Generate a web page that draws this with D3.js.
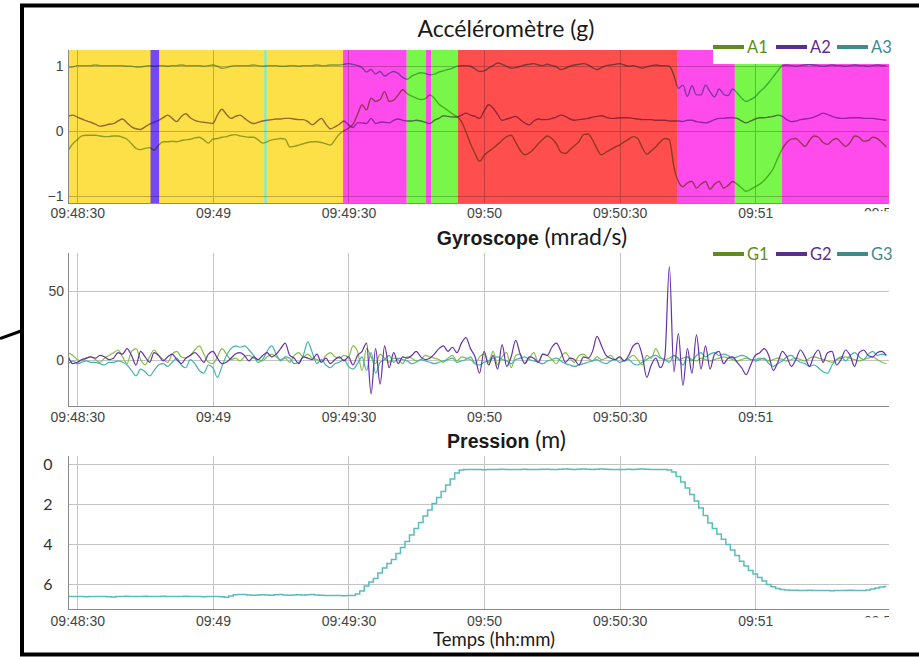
<!DOCTYPE html>
<html lang="fr">
<head>
<meta charset="UTF-8">
<title>Accéléromètre, gyroscope et pression</title>
<script src="https://d3js.org/d3.v7.min.js"></script>
<style>
  body { margin: 0; background: #fff; }
  svg { display: block; }
  .tick text { font-family: "Liberation Sans", Arial, sans-serif; font-size: 14px; fill: #444; }
  .prs .tick text { font-family: Lato, sans-serif; font-size: 16px; fill: #333; }
  .title { font-family: Lato, sans-serif; font-size: 23px; fill: #1a1a1a; }
  .title .b { font-family: "Liberation Sans", Arial, sans-serif; font-weight: bold; font-size: 19.5px; }
  .legend text { font-family: Lato, sans-serif; font-size: 16.5px; }
</style>
</head>
<body>
<div id="chart"></div>
<script>
// first sample is 2 s before 09:48:30, one sample per second
const startSec = -2;

// accelerometer (g)
const a1 = [-0.30, -0.20, -0.14, -0.08, -0.07, -0.07, -0.07, -0.08, -0.09, -0.09, -0.08, -0.08,
  -0.10, -0.13, -0.20, -0.27, -0.29, -0.27, -0.26, -0.30, -0.22, -0.17,
  -0.17, -0.16, -0.17, -0.15, -0.14, -0.13, -0.11, -0.10, -0.14, -0.19,
  -0.13, -0.12, -0.10, -0.09, -0.07, -0.06, -0.08, -0.09, -0.10, -0.10,
  -0.14, -0.19, -0.17, -0.14, -0.13, -0.12, -0.13, -0.25, -0.24, -0.22,
  -0.20, -0.18, -0.17, -0.17, -0.18, -0.20, -0.22, -0.14, -0.05, 0.00,
  0.04, 0.10, 0.25, 0.40, 0.32, 0.50, 0.45, 0.48, 0.60, 0.45,
  0.47, 0.55, 0.63, 0.57, 0.53, 0.50, 0.48, 0.49, 0.55, 0.50,
  0.41, 0.36, 0.31, 0.26, 0.22, 0.14, -0.02, -0.20, -0.35, -0.47,
  -0.38, -0.32, -0.27, -0.21, -0.15, -0.09, -0.07, -0.18, -0.30, -0.37,
  -0.34, -0.28, -0.20, -0.13, -0.08, -0.12, -0.20, -0.33, -0.35, -0.29,
  -0.23, -0.17, -0.06, -0.05, -0.14, -0.28, -0.37, -0.33, -0.29, -0.25,
  -0.22, -0.17, -0.13, -0.09, -0.12, -0.26, -0.36, -0.31, -0.25, -0.17,
  -0.12, -0.14, -0.55, -0.78, -0.86, -0.80, -0.78, -0.88, -0.82, -0.78,
  -0.90, -0.82, -0.78, -0.88, -0.84, -0.78, -0.82, -0.88, -0.93, -0.90,
  -0.86, -0.82, -0.76, -0.68, -0.58, -0.42, -0.28, -0.18, -0.13, -0.12,
  -0.18, -0.24, -0.15, -0.08, -0.10, -0.18, -0.21, -0.15, -0.12, -0.18,
  -0.24, -0.18, -0.08, -0.10, -0.16, -0.15, -0.10, -0.12, -0.18, -0.25];
const a2 = [0.22, 0.24, 0.21, 0.18, 0.15, 0.13, 0.10, 0.07, 0.08, 0.10, 0.11, 0.15,
  0.18, 0.12, 0.06, 0.03, 0.02, 0.06, 0.10, 0.13, 0.16, 0.20,
  0.24, 0.19, 0.14, 0.22, 0.26, 0.20, 0.16, 0.14, 0.13, 0.12,
  0.11, 0.24, 0.33, 0.25, 0.19, 0.22, 0.24, 0.19, 0.14, 0.11,
  0.13, 0.15, 0.16, 0.17, 0.18, 0.18, 0.19, 0.19, 0.18, 0.17,
  0.17, 0.14, 0.09, 0.14, 0.19, 0.10, 0.03, 0.06, 0.10, 0.15,
  0.09, 0.05, 0.12, 0.12, 0.11, 0.19, 0.11, 0.13, 0.13, 0.12,
  0.16, 0.18, 0.16, 0.15, 0.15, 0.16, 0.15, 0.13, 0.11, 0.16,
  0.19, 0.23, 0.22, 0.21, 0.21, 0.24, 0.27, 0.24, 0.22, 0.19,
  0.30, 0.40, 0.35, 0.25, 0.16, 0.18, 0.20, 0.22, 0.17, 0.12,
  0.09, 0.15, 0.18, 0.17, 0.17, 0.19, 0.21, 0.24, 0.22, 0.18,
  0.16, 0.17, 0.18, 0.19, 0.21, 0.22, 0.23, 0.21, 0.19, 0.19,
  0.20, 0.20, 0.20, 0.19, 0.18, 0.17, 0.17, 0.17, 0.16, 0.16,
  0.16, 0.15, 0.15, 0.15, 0.14, 0.16, 0.16, 0.14, 0.13, 0.12,
  0.14, 0.17, 0.19, 0.19, 0.20, 0.20, 0.19, 0.15, 0.12, 0.15,
  0.18, 0.20, 0.20, 0.21, 0.22, 0.24, 0.22, 0.17, 0.14, 0.15,
  0.17, 0.18, 0.19, 0.21, 0.24, 0.27, 0.25, 0.22, 0.20, 0.19,
  0.19, 0.20, 0.20, 0.20, 0.19, 0.19, 0.19, 0.18, 0.17, 0.16];
const a3 = [0.97, 0.98, 1.00, 1.00, 1.00, 1.00, 1.01, 1.00, 1.00, 1.00, 1.00, 1.00,
  1.00, 0.99, 0.99, 0.98, 0.98, 0.99, 1.00, 0.99, 1.00, 1.00,
  0.99, 1.00, 1.00, 1.01, 1.00, 1.00, 1.00, 1.00, 0.99, 1.00,
  1.01, 0.99, 0.96, 0.97, 0.99, 1.00, 1.00, 1.00, 1.00, 1.01,
  1.00, 0.99, 1.00, 1.00, 1.00, 0.99, 0.99, 1.00, 1.00, 0.99,
  1.00, 1.00, 1.00, 1.01, 1.00, 1.00, 1.01, 1.01, 1.01, 1.02,
  1.03, 1.02, 1.00, 0.97, 0.90, 0.94, 0.87, 0.91, 0.84, 0.88,
  0.91, 0.88, 0.82, 0.79, 0.84, 0.87, 0.89, 0.88, 0.86, 0.87,
  0.90, 0.92, 0.94, 0.96, 0.99, 1.00, 1.00, 0.99, 0.95, 0.91,
  0.92, 0.96, 1.00, 1.04, 1.02, 0.99, 0.96, 0.97, 0.99, 1.01,
  1.02, 1.03, 1.01, 1.00, 1.02, 1.00, 0.98, 0.94, 0.96, 0.99,
  1.01, 1.02, 1.03, 1.01, 0.97, 0.94, 0.97, 1.00, 1.01, 1.02,
  1.03, 1.01, 0.99, 1.00, 0.98, 0.96, 0.98, 1.00, 1.01, 1.00,
  1.00, 0.99, 0.85, 0.65, 0.70, 0.53, 0.69, 0.55, 0.55, 0.70,
  0.60, 0.52, 0.64, 0.56, 0.54, 0.64, 0.58, 0.50, 0.45, 0.48,
  0.52, 0.60, 0.66, 0.74, 0.83, 0.92, 1.00, 1.01, 1.00, 0.99,
  1.00, 1.01, 1.02, 1.01, 1.00, 0.99, 1.00, 1.01, 1.00, 1.00,
  0.99, 1.00, 1.01, 1.00, 1.00, 0.99, 1.00, 1.01, 1.00, 1.00];

// gyroscope (mrad/s)
const g1 = [5, 3, 0, -1, 1, 2, 0, -2, 1, 3, 5, 7,
  2, -3, 6, 8, 0, -4, 2, 7, 3, 0,
  -2, 4, 6, 2, 1, 3, 7, 10, 4, -2,
  -3, 2, 8, 4, 0, 1, -1, 2, 3, 1,
  0, -1, 2, 4, 2, 0, 1, -2, 3, 5,
  2, 4, 1, 0, -1, 3, 5, 2, 1, 3,
  2, 10, 6, -8, 8, 2, -3, 4, 1, -2,
  1, 0, -3, 2, 1, -1, 0, 3, 2, 1,
  0, -2, 1, 3, -1, 2, 1, 0, -3, 2,
  4, -2, 6, -4, 2, 5, -6, 3, 4, -3,
  1, 5, -2, 4, 3, 0, -3, 2, 5, 1,
  -2, 3, 4, 1, -1, 2, 0, 1, 3, 0,
  2, -1, 1, 3, 0, -4, 3, 1, 8, 2,
  0, 1, 3, 0, 1, 2, 0, -1, 1, 0,
  -1, 0, 1, 2, 1, 0, -1, 0, 1, 0,
  0, 1, 0, -1, 0, 1, 0, -1, 0, 1,
  0, -1, 1, 2, 1, 0, -1, -2, 0, 1,
  2, 1, 0, -1, 0, 1, 2, 0, -2, -3];
const g2 = [2, -3, -2, 0, 1, 2, 1, 3, 2, 0, 1, 5,
  4, 8, 3, -4, 6, 2, -2, 5, 3, -1,
  2, 4, 0, -3, 1, 3, 5, 2, -2, 4,
  6, 1, -3, -2, 1, 4, 5, 3, -1, 2,
  0, 3, 5, 2, 4, 8, 12, 3, 1, -3,
  2, 1, 0, 4, -2, 1, -3, 0, 2, -1,
  2, -4, 3, 6, 12, -25, 8, -18, 10, -6,
  5, -3, 2, 1, 3, 6, 2, 0, 1, 4,
  8, 10, 6, 9, 5, 12, 16, 8, 2, -10,
  6, -4, 3, -7, 11, -5, 2, 14, 4, -3,
  2, 1, -2, 4, 3, 9, 12, 6, -2, 1,
  0, -4, 2, 1, 6, 17, 10, 3, 1, 0,
  2, -1, 3, 10, 12, 3, -13, -4, 1, -6,
  2, 68, -9, 19, -19, 8, -10, 18, -7, 10,
  -7, 4, 6, -3, 1, 2, -2, -6, -11, -4,
  3, 5, 8, 3, -8, -2, 6, 2, -5, 0,
  7, 2, -5, 3, 7, -2, 5, 6, -4, 0,
  7, 3, -5, 5, 7, 3, 2, 5, 6, 3];
const g3 = [-3, -1, -3, -2, -1, -2, -2, -3, -4, -2, -2, -1,
  -2, -4, -8, -12, -7, -9, -12, -8, -4, -3,
  -5, -2, 1, -4, -6, 0, -3, -8, -10, -4,
  -6, -13, -5, 3, 8, 10, 9, 10, 7, 3,
  -2, 0, 6, 10, 4, -1, 2, 1, -3, -2,
  3, 13, 5, -3, 0, -4, -6, -3, -2, 0,
  -5, -7, -3, 2, -8, 5, -10, -2, 0, 3,
  -2, 1, 0, -1, -3, -2, 0, -1, -2, -3,
  -2, -1, 0, 1, -2, -1, 0, 2, -3, -4,
  -2, -1, 1, 2, 0, -1, -3, 0, 1, 2,
  0, -1, -2, -3, -1, 0, 1, -1, -3, -4,
  -5, -4, -3, -2, -1, 0, -2, -3, -1, 0,
  -2, -1, 0, -3, -4, -2, 0, 2, 3, 1,
  0, -2, 3, 1, -4, 2, -1, 3, 5, 2,
  4, 5, 3, 4, 3, 1, 2, 3, 2, 0,
  -1, 0, 1, -3, -5, -3, -1, 2, 3, 0,
  -2, -3, -5, -4, -6, -9, -10, -4, 0, 2,
  -1, 3, 5, 2, 0, 4, 6, 3, 4, 3];

// pressure converted to depth (m)
const depth = [6.62, 6.63, 6.62, 6.63, 6.64, 6.63, 6.62, 6.62, 6.63, 6.64, 6.65, 6.63,
  6.62, 6.61, 6.62, 6.63, 6.62, 6.61, 6.62, 6.63, 6.62, 6.61,
  6.62, 6.62, 6.63, 6.62, 6.61, 6.62, 6.62, 6.63, 6.64, 6.63,
  6.62, 6.63, 6.64, 6.66, 6.60, 6.54, 6.52, 6.53, 6.55, 6.56,
  6.55, 6.54, 6.55, 6.56, 6.54, 6.53, 6.55, 6.56, 6.55, 6.54,
  6.55, 6.54, 6.53, 6.55, 6.56, 6.57, 6.58, 6.58, 6.58, 6.59,
  6.58, 6.58, 6.50, 6.35, 6.10, 5.90, 5.72, 5.45, 5.20, 4.98,
  4.78, 4.47, 4.17, 3.88, 3.55, 3.23, 2.92, 2.60, 2.30, 1.98,
  1.68, 1.37, 1.05, 0.75, 0.45, 0.30, 0.28, 0.28, 0.27, 0.28,
  0.29, 0.28, 0.27, 0.27, 0.26, 0.27, 0.28, 0.28, 0.27, 0.26,
  0.27, 0.28, 0.27, 0.26, 0.26, 0.27, 0.27, 0.26, 0.25, 0.26,
  0.27, 0.26, 0.25, 0.26, 0.27, 0.26, 0.25, 0.26, 0.27, 0.27,
  0.28, 0.27, 0.26, 0.27, 0.26, 0.25, 0.26, 0.27, 0.27, 0.27,
  0.27, 0.30, 0.40, 0.62, 0.90, 1.20, 1.52, 1.85, 2.20, 2.58,
  2.95, 3.22, 3.50, 3.76, 4.02, 4.30, 4.58, 4.86, 5.10, 5.32,
  5.50, 5.68, 5.85, 6.02, 6.14, 6.23, 6.28, 6.30, 6.31, 6.31,
  6.32, 6.32, 6.31, 6.32, 6.33, 6.32, 6.33, 6.34, 6.33, 6.33,
  6.32, 6.31, 6.32, 6.33, 6.33, 6.30, 6.25, 6.20, 6.15, 6.12];

// activity segments behind the accelerometer, seconds from 09:48:30
const segStart = [-2.06, 16.2, 41.4, 58.8, 72.9, 77.1, 78.3, 84.2, 132.7, 145.5, 155.9];
const segEnd = [58.8, 18.1, 41.9, 72.9, 77.1, 78.3, 84.2, 132.7, 145.5, 155.9, 179.6];
const segKind = ["jaune", "bleu", "cyan", "magenta", "vert", "magenta", "vert", "rouge", "magenta", "vert", "magenta"];

const accNames = ["A1", "A2", "A3"];
const gyrNames = ["G1", "G2", "G3"];
const accTicks = [-1, 0, 1];
const gyrTicks = [0, 50];
const prsTicks = [0, 2, 4, 6];

const segColor = { jaune: "#fde047", bleu: "#7448f4", cyan: "#6ef0de", magenta: "#ff4bec", vert: "#79f64a", rouge: "#ff4e4e" };
const accColor = ["#5a8a14", "#5b2d8e", "#3d8b8b"];
const gyrColor = ["#86be48", "#6532aa", "#46b0b0"];
const legColor = ["#5e8c1e", "#5b2d8e", "#3d8b8b"];

const W = 919, H = 657;
const svg = d3.select("#chart").append("svg").attr("width", W).attr("height", H);

const base = new Date(2021, 0, 1, 9, 48, 30);
const at = s => new Date(base.getTime() + s * 1000);
const series = vals => vals.map((v, i) => ({ t: at(startSec + i), v: v }));

const x = d3.scaleTime().domain([at(-2.06), at(179.6)]).range([68, 889]);
const tickTimes = x.ticks(d3.timeSecond.every(30));
const cutTime = at(180);
const fmtTick = d => d3.timeFormat(d.getSeconds() ? "%H:%M:%S" : "%H:%M")(d);

const yAcc = d3.scaleLinear().domain([-1.11, 1.24]).range([203, 50]);
const yGyr = d3.scaleLinear().domain([-34, 78]).range([406, 253]);
const yPrs = d3.scaleLinear().domain([-0.4, 7.25]).range([456, 609]);

const px = v => Math.round(v) + 0.5;
const topOf = y => d3.min(y.range());
const bottomOf = y => d3.max(y.range());

// outer frame and the pointer line on the left
svg.append("rect").attr("x", 22).attr("y", 5.5).attr("width", 920).attr("height", 649)
  .attr("fill", "none").attr("stroke", "#000").attr("stroke-width", 4);
svg.append("line").attr("x1", 0).attr("y1", 338.5).attr("x2", 21).attr("y2", 331)
  .attr("stroke", "#000").attr("stroke-width", 3);

function clipFor(id, y) {
  svg.append("clipPath").attr("id", id).append("rect")
    .attr("x", x.range()[0]).attr("y", topOf(y))
    .attr("width", x.range()[1] - x.range()[0]).attr("height", bottomOf(y) - topOf(y));
}

function grid(g, y, yTicks) {
  g.selectAll(".vg").data(tickTimes).join("line").attr("class", "vg")
    .attr("x1", d => px(x(d))).attr("x2", d => px(x(d)))
    .attr("y1", topOf(y)).attr("y2", bottomOf(y)).attr("stroke", "#c4c4c4");
  g.selectAll(".hg").data(yTicks).join("line").attr("class", "hg")
    .attr("x1", x.range()[0]).attr("x2", x.range()[1])
    .attr("y1", d => px(y(d))).attr("y2", d => px(y(d))).attr("stroke", "#c4c4c4");
}

function frame(g, y) {
  g.append("line").attr("x1", 68.5).attr("x2", 68.5).attr("y1", topOf(y)).attr("y2", bottomOf(y)).attr("stroke", "#8a8a8a");
  g.append("line").attr("x1", 68).attr("x2", 889).attr("y1", bottomOf(y) + 0.5).attr("y2", bottomOf(y) + 0.5).attr("stroke", "#8a8a8a");
}

function xAxis(y, pad, cutY, id) {
  if (cutY) {
    const cp = svg.append("clipPath").attr("id", id);
    cp.append("rect").attr("x", 0).attr("y", 0).attr("width", 862).attr("height", H);
    cp.append("rect").attr("x", 862).attr("y", 0).attr("width", 27).attr("height", cutY);
  }
  const holder = svg.append("g");
  if (cutY) holder.attr("clip-path", `url(#${id})`);
  const ax = holder.append("g").attr("transform", `translate(0,${bottomOf(y)})`)
    .call(d3.axisBottom(x).tickValues(cutY ? tickTimes.concat([cutTime]) : tickTimes)
      .tickFormat(fmtTick).tickSize(0).tickPadding(pad));
  ax.select(".domain").remove();
}

function yAxis(cls, y, ticks, pad) {
  const ax = svg.append("g").attr("class", cls).attr("transform", "translate(68,0)")
    .call(d3.axisLeft(y).tickValues(ticks).tickFormat(d3.format("d")).tickSize(0).tickPadding(pad));
  ax.select(".domain").remove();
}

function legend(y0, names) {
  const lg = svg.append("g").attr("class", "legend");
  const x0 = [713, 776, 837];
  names.forEach((n, i) => {
    lg.append("line").attr("x1", x0[i]).attr("x2", x0[i] + 31).attr("y1", y0).attr("y2", y0)
      .attr("stroke", legColor[i]).attr("stroke-width", 4);
    lg.append("text").attr("x", x0[i] + 34).attr("y", y0 + 6).attr("fill", legColor[i]).text(n);
  });
}

// ---------- accelerometer ----------
clipFor("clipAcc", yAcc);
const accG = svg.append("g").attr("clip-path", "url(#clipAcc)");
accG.selectAll(".seg").data(segKind).join("rect").attr("class", "seg")
  .attr("x", (d, i) => x(at(segStart[i])))
  .attr("width", (d, i) => x(at(segEnd[i])) - x(at(segStart[i])))
  .attr("y", topOf(yAcc)).attr("height", bottomOf(yAcc) - topOf(yAcc))
  .attr("fill", d => segColor[d]);
const accMul = accG.append("g").style("mix-blend-mode", "multiply");
grid(accMul, yAcc, accTicks);
const accLine = d3.line().x(d => x(d.t)).y(d => yAcc(d.v)).curve(d3.curveMonotoneX);
accMul.selectAll(".acc").data([a1, a2, a3]).join("path").attr("class", "acc")
  .attr("d", d => accLine(series(d))).attr("fill", "none")
  .attr("stroke", (d, i) => accColor[i]).attr("stroke-width", 1.4).attr("stroke-opacity", 0.65);
frame(svg.append("g"), yAcc);
svg.append("rect").attr("x", 713).attr("y", 50).attr("width", 176).attr("height", 14).attr("fill", "#fff");
legend(47, accNames);
xAxis(yAcc, 5, 211.3, "cutAcc");
yAxis("acc", yAcc, accTicks, 4.5);

svg.append("text").attr("class", "title").attr("x", 506).attr("y", 36.5)
  .attr("text-anchor", "middle").text("Accéléromètre (g)");

// ---------- gyroscope ----------
clipFor("clipGyr", yGyr);
const gyrG = svg.append("g");
grid(gyrG, yGyr, gyrTicks);
const gyrLine = d3.line().x(d => x(d.t)).y(d => yGyr(d.v)).curve(d3.curveMonotoneX);
gyrG.append("g").attr("clip-path", "url(#clipGyr)")
  .selectAll(".gyr").data([g1, g3, g2]).join("path").attr("class", "gyr")
  .attr("d", d => gyrLine(series(d))).attr("fill", "none")
  .attr("stroke", (d, i) => [gyrColor[0], gyrColor[2], gyrColor[1]][i]).attr("stroke-width", 1.2);
frame(gyrG, yGyr);
legend(254, gyrNames);
xAxis(yGyr, 6, 0, "cutGyr");
yAxis("gyr", yGyr, gyrTicks, 4);

const gt = svg.append("text").attr("class", "title").attr("x", 532).attr("y", 245).attr("text-anchor", "middle");
gt.append("tspan").attr("class", "b").text("Gyroscope");
gt.append("tspan").text(" (mrad/s)");

// ---------- pressure ----------
clipFor("clipPrs", yPrs);
const prsG = svg.append("g");
grid(prsG, yPrs, prsTicks);
const prsLine = d3.line().x(d => x(d.t)).y(d => yPrs(d.v)).curve(d3.curveStep);
prsG.append("path").attr("clip-path", "url(#clipPrs)")
  .attr("d", prsLine(series(depth))).attr("fill", "none")
  .attr("stroke", "#5bbcbc").attr("stroke-width", 1.5);
frame(prsG, yPrs);
xAxis(yPrs, 7, 617.5, "cutPrs");
yAxis("prs", yPrs, prsTicks, 15.5);

const pt = svg.append("text").attr("class", "title").attr("x", 506.5).attr("y", 448).attr("text-anchor", "middle");
pt.append("tspan").attr("class", "b").text("Pression");
pt.append("tspan").text(" (m)");

svg.append("text").attr("class", "title").attr("x", 494).attr("y", 646)
  .attr("text-anchor", "middle").style("font-size", "18.5px").text("Temps (hh:mm)");
</script>
</body>
</html>
